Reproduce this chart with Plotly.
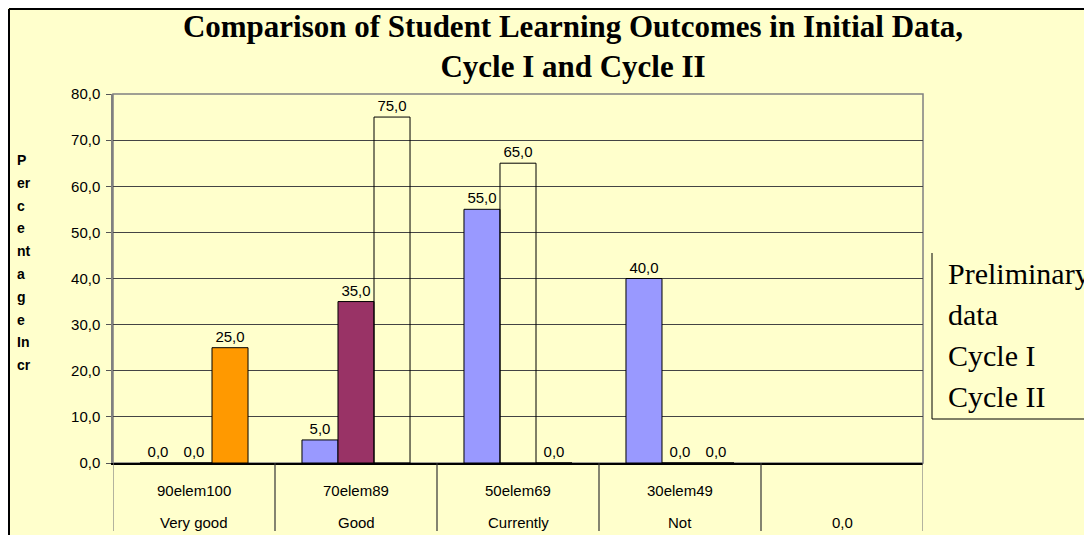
import plotly.graph_objects as go

# ---- data ----
range_labels = ["90elem100", "70elem89", "50elem69", "30elem49", ""]
categories = ["Very good", "Good", "Currently", "Not", "0,0"]
series_names = ["Preliminary data", "Cycle I", "Cycle II"]
prelim = [0, 5, 55, 40, None]
cycle1 = [0, 35, 65, 0, None]
cycle2 = [25, 75, 0, 0, None]
ytick_vals = [0, 10, 20, 30, 40, 50, 60, 70, 80]
ytitle_parts = ["P", "er", "c", "e", "nt", "a", "g", "e", "In", "cr"]
legend_lines = ["Preliminary", "data", "Cycle I", "Cycle II"]

BG = "#FFFFCC"
NONE = "rgba(0,0,0,0)"
prelim_colors = ["#9999FF"] * 5
cycle1_colors = ["#993366", "#993366", NONE, "#993366", "#993366"]
cycle2_colors = ["#FF9900", NONE, "#FF9900", "#FF9900", "#FF9900"]

lab_font = dict(family="Liberation Sans, Arial", size=15, color="black")

fig = go.Figure()
for name, vals, cols in zip(series_names, [prelim, cycle1, cycle2],
                            [prelim_colors, cycle1_colors, cycle2_colors]):
    fig.add_trace(go.Bar(
        x=categories, y=vals, name=name,
        marker=dict(color=cols, line=dict(color="black", width=1)),
        texttemplate="%{y:.1f}", textposition="outside",
        textfont=lab_font, cliponaxis=False, showlegend=False,
    ))

# page offset of the plot div inside the browser page
OFF = 8
W, H = 1092, 535
L, R, T, B = 113 - OFF, 923 - OFF, 94 - OFF, 463 - OFF
pw, ph = R - L, B - T

def px_x(p):
    return (p - OFF - L) / pw

def px_y(p):
    return (B - (p - OFF)) / ph

shapes = []
# figure border (top & left), at the very edge of the figure
shapes.append(dict(type="line", xref="paper", yref="paper", x0=px_x(OFF + 1), x1=px_x(W + 20),
                   y0=px_y(OFF + 1), y1=px_y(OFF + 1), line=dict(color="black", width=2)))
shapes.append(dict(type="line", xref="paper", yref="paper", x0=px_x(OFF + 1), x1=px_x(OFF + 1),
                   y0=px_y(OFF + 1), y1=px_y(H + 20), line=dict(color="black", width=2)))
# plot area border
shapes.append(dict(type="rect", xref="paper", yref="paper", x0=0, x1=1, y0=0, y1=1,
                   line=dict(color="#808080", width=1.5), layer="below"))
# data table dividers below axis
n = len(categories)
for i in range(n + 1):
    shapes.append(dict(type="line", xref="x", yref="paper", x0=i - 0.5, x1=i - 0.5,
                       y0=0, y1=px_y(531),
                       line=dict(color="#333333" if 0 < i < n else "#808080", width=1.2)))
# legend box (left & bottom edges)
shapes.append(dict(type="line", xref="paper", yref="paper", x0=px_x(932), x1=px_x(932),
                   y0=px_y(253), y1=px_y(419), line=dict(color="black", width=1)))
shapes.append(dict(type="line", xref="paper", yref="paper", x0=px_x(932), x1=px_x(W + 20),
                   y0=px_y(419), y1=px_y(419), line=dict(color="black", width=1)))

annotations = []
for c, r in zip(categories, range_labels):
    annotations.append(dict(x=c, xref="x", y=px_y(490), yref="paper", text=r,
                            showarrow=False, font=lab_font, yanchor="middle"))
    annotations.append(dict(x=c, xref="x", y=px_y(522), yref="paper", text=c,
                            showarrow=False, font=lab_font, yanchor="middle"))
for k, part in enumerate(ytitle_parts):
    annotations.append(dict(x=px_x(15), xref="paper", y=px_y(160 + 22.8 * k), yref="paper",
                            text=part, showarrow=False, xanchor="left", yanchor="middle",
                            font=dict(family="Liberation Sans, Arial", size=14, color="black",
                                      weight="bold")))
for k, line in enumerate(legend_lines):
    annotations.append(dict(x=px_x(946), xref="paper", y=px_y(273 + 41 * k), yref="paper",
                            text=line, showarrow=False, xanchor="left", yanchor="middle",
                            font=dict(family="Liberation Serif, Times New Roman", size=30,
                                      color="black")))

fig.update_layout(
    width=W, height=H,
    margin=dict(l=L, r=W - R, t=T, b=H - B, pad=0),
    paper_bgcolor=BG, plot_bgcolor=BG,
    separators=", ",
    barmode="group", bargap=0.333, bargroupgap=0,
    title=dict(text="Comparison of Student Learning Outcomes in Initial Data,<br>Cycle I and Cycle II",
               x=(573 - OFF) / W, xanchor="center", y=1 - 29 / H, yanchor="top",
               font=dict(family="Liberation Serif, Times New Roman", size=31, color="black",
                         weight="bold")),
    xaxis=dict(showticklabels=False, showline=True, linecolor="black", linewidth=1.5,
               showgrid=False, ticks="", categoryorder="array", categoryarray=categories,
               range=[-0.5, n - 0.5]),
    yaxis=dict(range=[0, 80], tickvals=ytick_vals, tickformat=".1f",
               showgrid=True, gridcolor="#444444", gridwidth=1,
               showline=True, linecolor="#808080", linewidth=1.5,
               ticks="outside", ticklen=5, tickcolor="#555555",
               tickfont=lab_font, zeroline=False, ticklabelstandoff=3),
    shapes=shapes, annotations=annotations, showlegend=False,
)

fig.write_html("out.html")
